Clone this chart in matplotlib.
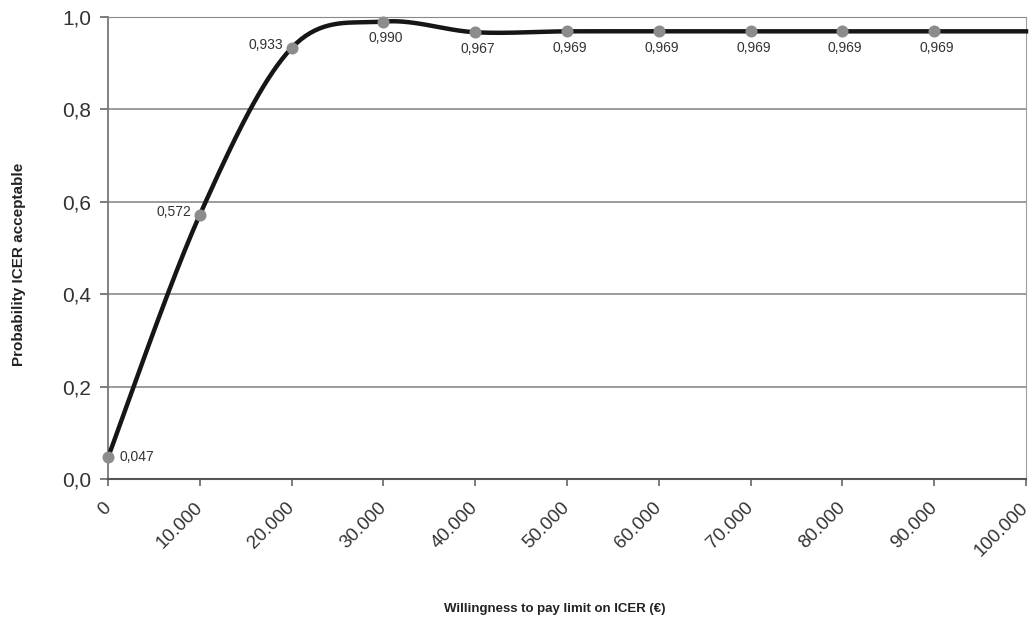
import numpy as np
import matplotlib
matplotlib.use("Agg")
import matplotlib.pyplot as plt

plt.rcParams["font.family"] = ["Liberation Sans", "DejaVu Sans"]

# === Data: cost-effectiveness acceptability curve ===
wtp = [0, 10000, 20000, 30000, 40000, 50000, 60000, 70000, 80000, 90000, 100000]
prob = [0.047, 0.572, 0.933, 0.990, 0.967, 0.969, 0.969, 0.969, 0.969, 0.969, 0.969]
labels = ["0,047", "0,572", "0,933", "0,990", "0,967", "0,969", "0,969", "0,969", "0,969", "0,969"]
x_ticks = [0, 10000, 20000, 30000, 40000, 50000, 60000, 70000, 80000, 90000, 100000]
x_ticklabels = ["0", "10.000", "20.000", "30.000", "40.000", "50.000", "60.000",
                "70.000", "80.000", "90.000", "100.000"]
y_ticks = [0.0, 0.2, 0.4, 0.6, 0.8, 1.0]
y_ticklabels = ["0,0", "0,2", "0,4", "0,6", "0,8", "1,0"]


# === Smoothed line (Catmull-Rom style Bezier, like a spreadsheet smoothed line) ===
def smooth(xs, ys, n=40):
    xs = np.asarray(xs, float)
    ys = np.asarray(ys, float)
    px = np.concatenate([[xs[0]], xs, [xs[-1]]])
    py = np.concatenate([[ys[0]], ys, [ys[-1]]])
    out_x, out_y = [], []
    t = np.linspace(0, 1, n)
    for i in range(1, len(px) - 2):
        x0, x3 = px[i], px[i + 1]
        y0, y3 = py[i], py[i + 1]
        x1 = x0 + (px[i + 1] - px[i - 1]) / 6
        y1 = y0 + (py[i + 1] - py[i - 1]) / 6
        x2 = x3 - (px[i + 2] - px[i]) / 6
        y2 = y3 - (py[i + 2] - py[i]) / 6
        bx = (1 - t) ** 3 * x0 + 3 * (1 - t) ** 2 * t * x1 + 3 * (1 - t) * t ** 2 * x2 + t ** 3 * x3
        by = (1 - t) ** 3 * y0 + 3 * (1 - t) ** 2 * t * y1 + 3 * (1 - t) * t ** 2 * y2 + t ** 3 * y3
        out_x.append(bx)
        out_y.append(by)
    return np.concatenate(out_x), np.concatenate(out_y)


sx, sy = smooth(wtp, prob)

fig = plt.figure(figsize=(10.32, 6.21), dpi=100)
ax = fig.add_axes([0.1047, 0.2287, 0.8895, 0.7439])

for y in y_ticks[1:]:
    ax.axhline(y, color="#8a8a8a", lw=1.2, zorder=1)

ax.plot(sx, sy, color="#161616", lw=3.2, zorder=3, clip_on=False)
ax.scatter(wtp[:len(labels)], prob[:len(labels)], s=75, color="#8c8c8c",
           zorder=4, clip_on=False, linewidths=0)

# === Point labels ===
for i, (x, y, lab) in enumerate(zip(wtp, prob, labels)):
    if i == 0:
        ax.annotate(lab, (x, y), xytext=(8, 0), textcoords="offset points",
                    ha="left", va="center", fontsize=10, color="#333333")
    elif i in (1, 2):
        ax.annotate(lab, (x, y), xytext=(-6, 2), textcoords="offset points",
                    ha="right", va="center", fontsize=10, color="#333333")
    else:
        ax.annotate(lab, (x, y), xytext=(2, -7), textcoords="offset points",
                    ha="center", va="top", fontsize=10, color="#333333")

ax.set_xlim(0, 100000)
ax.set_ylim(0, 1.0)
ax.set_xticks(x_ticks)
ax.set_xticklabels(x_ticklabels, rotation=45, ha="right", va="center",
                   rotation_mode="anchor", fontsize=13.5, color="#333333")
ax.set_yticks(y_ticks)
ax.set_yticklabels(y_ticklabels, fontsize=15, color="#333333")
ax.tick_params(axis="x", length=5, width=1.2, color="#666666", pad=14)
ax.tick_params(axis="y", length=6, width=1.2, color="#666666", pad=6)

ax.spines["left"].set_color("#777777")
ax.spines["bottom"].set_color("#555555")
ax.spines["left"].set_linewidth(1.3)
ax.spines["bottom"].set_linewidth(1.5)
ax.spines["top"].set_color("#8a8a8a")
ax.spines["right"].set_color("#a0a0a0")

fig.text(0.538, 0.02, "Willingness to pay limit on ICER (€)", ha="center", va="center",
         fontsize=9.5, fontweight="bold", color="#222222")
fig.text(0.018, 0.575, "Probability ICER acceptable", ha="center", va="center",
         rotation=90, fontsize=11, fontweight="bold", color="#222222")

fig.savefig("out.png", dpi=100)
